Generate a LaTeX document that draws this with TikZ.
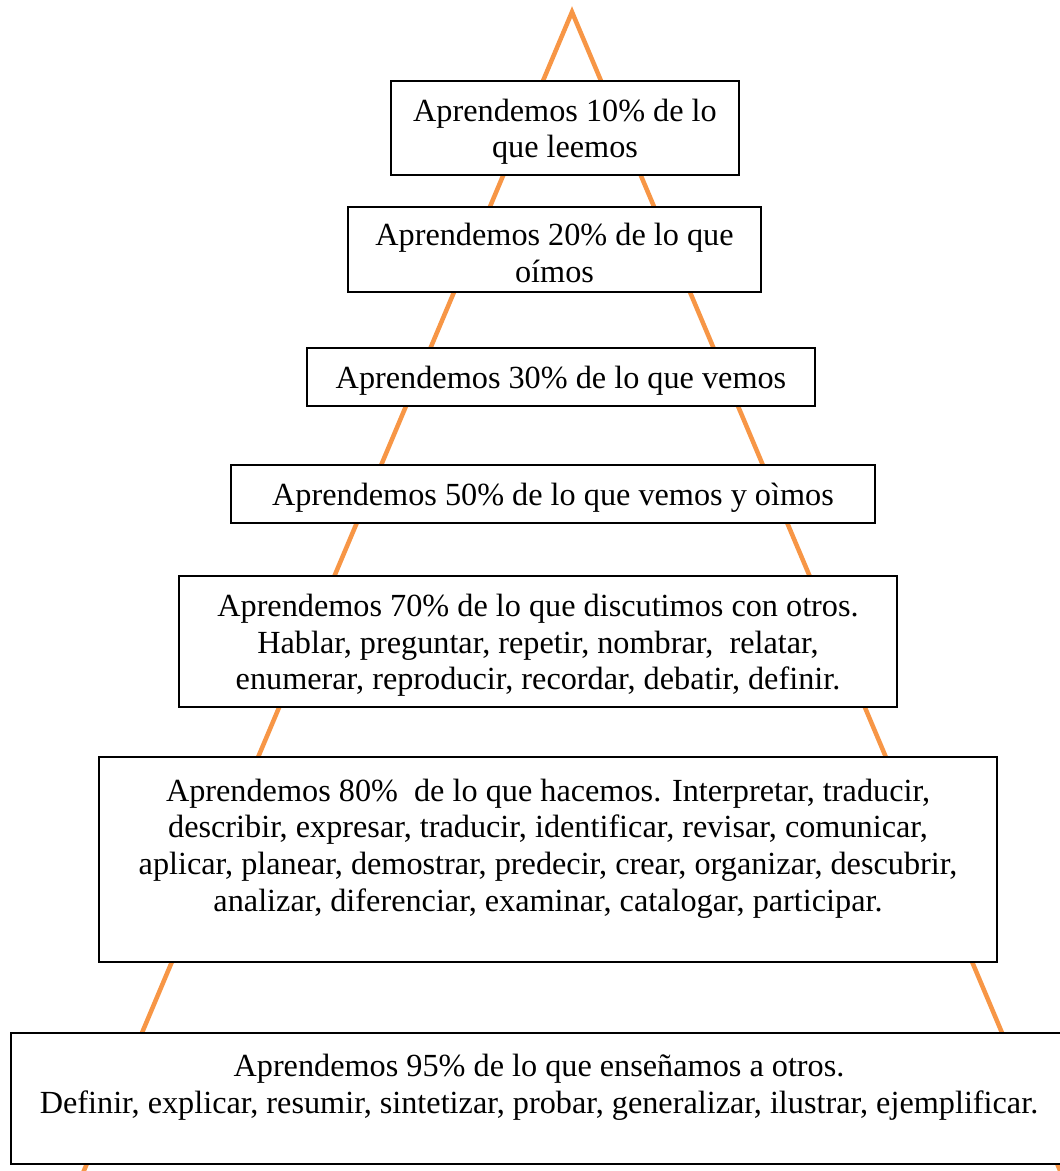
\documentclass[tikz,border=0pt]{standalone}
\usepackage{fontspec}
\setmainfont{Liberation Serif}

\definecolor{pyramid}{HTML}{F79646}
\newcommand*{\tierfont}{\fontsize{12.9}{14.7}\selectfont}
\newcommand*{\tierstrut}{\rule{0pt}{12pt}}

\begin{document}
\begin{tikzpicture}[x=0.4pt,y=-0.4pt,
	tier/.style={draw,line width=0.8pt,fill=white,align=center,font=\tierfont,inner sep=0pt}]

	\useasboundingbox (0,0) rectangle (1059,1171);

	% pyramid
	\coordinate (apex) at (572,12);
	\coordinate (baseL) at (80,1180);
	\coordinate (baseR) at (1064,1180);
	\draw[pyramid,line width=1.8pt] (baseL) -- (apex) -- (baseR);

	% tiers, top to bottom
	\node[tier,minimum width=348*0.4pt,minimum height=94*0.4pt] (t10) at (565,128)
		{\tierstrut Aprendemos 10\% de lo\\que leemos};
	\node[tier,minimum width=413*0.4pt,minimum height=85*0.4pt] (t20) at (554.5,249.5)
		{\tierstrut Aprendemos 20\% de lo que\\oímos};
	\node[tier,minimum width=508*0.4pt,minimum height=58*0.4pt] (t30) at (561,377)
		{\tierstrut Aprendemos 30\% de lo que vemos};
	\node[tier,minimum width=644*0.4pt,minimum height=58*0.4pt] (t50) at (553,494)
		{\tierstrut Aprendemos 50\% de lo que vemos y oìmos};
	\node[tier,minimum width=718*0.4pt,minimum height=131*0.4pt] (t70) at (538,641.5)
		{\tierstrut Aprendemos 70\% de lo que discutimos con otros.\\
		 Hablar, preguntar, repetir, nombrar,\ \ relatar,\\
		 enumerar, reproducir, recordar, debatir, definir.};
	\node[tier,minimum width=898*0.4pt,minimum height=205*0.4pt] (t80) at (548,859.5)
		{\tierstrut Aprendemos 80\%\ \ de lo que hacemos. Interpretar, traducir,\\
		 describir, expresar, traducir, identificar, revisar, comunicar,\\
		 aplicar, planear, demostrar, predecir, crear, organizar, descubrir,\\
		 analizar, diferenciar, examinar, catalogar, participar.\\ \mbox{}};
	\node[tier,minimum width=1056*0.4pt,minimum height=131*0.4pt] (t95) at (539,1098.5)
		{\tierstrut Aprendemos 95\% de lo que enseñamos a otros.\\
		 Definir, explicar, resumir, sintetizar, probar, generalizar, ilustrar, ejemplificar.\\ \mbox{}};

\end{tikzpicture}
\end{document}
